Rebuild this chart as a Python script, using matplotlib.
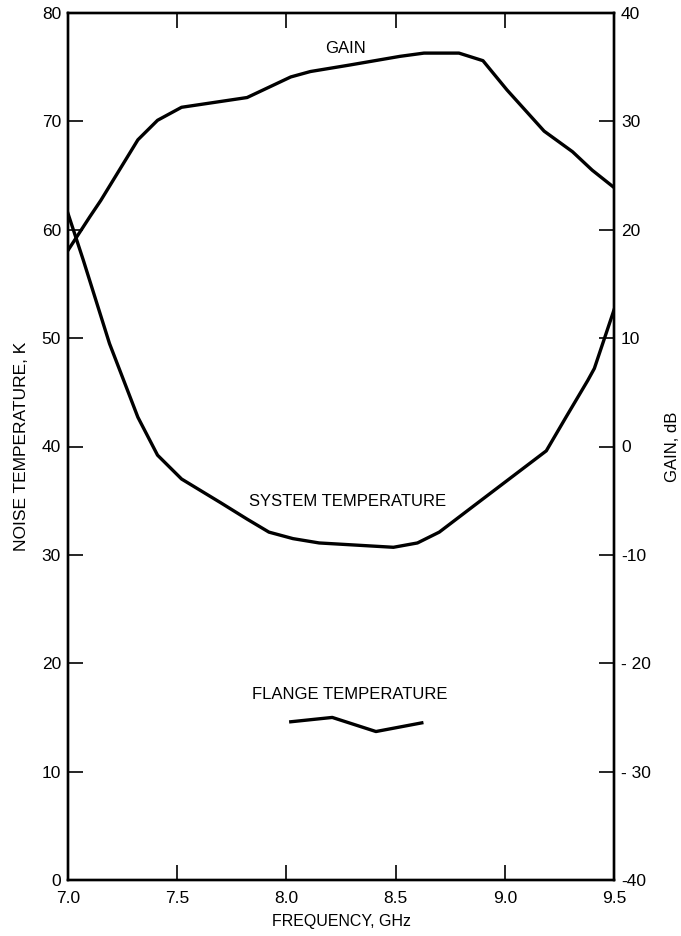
import matplotlib
matplotlib.use("Agg")
import matplotlib.pyplot as plt

plt.rcParams['font.family'] = ['Liberation Sans', 'DejaVu Sans']

# Gain curve (right axis, dB)
gain_freq = [7.00, 7.10, 7.15, 7.32, 7.41, 7.52, 7.82, 8.02, 8.11, 8.29, 8.52,
             8.63, 8.72, 8.79, 8.90, 9.01, 9.18, 9.31, 9.40, 9.50]
gain_db = [18.1, 21.2, 22.7, 28.3, 30.1, 31.3, 32.2, 34.1, 34.6, 35.2, 36.0,
           36.3, 36.3, 36.3, 35.6, 32.9, 29.1, 27.2, 25.5, 23.9]

# System temperature (left axis, K)
sys_freq = [7.00, 7.07, 7.19, 7.32, 7.41, 7.52, 7.70, 7.82, 7.92, 8.03, 8.15,
            8.49, 8.60, 8.70, 8.85, 9.02, 9.19, 9.28, 9.38, 9.41, 9.50]
sys_temp = [61.5, 57.2, 49.5, 42.7, 39.2, 37.0, 34.8, 33.3, 32.1, 31.5, 31.1,
            30.7, 31.1, 32.1, 34.4, 37.0, 39.6, 42.7, 46.1, 47.2, 52.6]

# Flange temperature (left axis, K)
flange_freq = [8.02, 8.21, 8.41, 8.62]
flange_temp = [14.6, 15.0, 13.7, 14.5]

x_ticks = [7.0, 7.5, 8.0, 8.5, 9.0, 9.5]
x_labels = ["7.0", "7.5", "8.0", "8.5", "9.0", "9.5"]
left_ticks = [0, 10, 20, 30, 40, 50, 60, 70, 80]
right_ticks = [-40, -30, -20, -10, 0, 10, 20, 30, 40]
right_labels = ["-40", "- 30", "- 20", "-10", "0", "10", "20", "30", "40"]

fig = plt.figure(figsize=(6.81, 9.36), dpi=100)
ax = fig.add_axes([68/681, 56/936, 546/681, 867/936])
ax2 = ax.twinx()

lw = 2.4
ax.plot(sys_freq, sys_temp, color='black', lw=lw, solid_joinstyle='round')
ax.plot(flange_freq, flange_temp, color='black', lw=lw, solid_joinstyle='round')
ax2.plot(gain_freq, gain_db, color='black', lw=lw, solid_joinstyle='round')

ax.set_xlim(7.0, 9.5)
ax.set_ylim(0, 80)
ax2.set_ylim(-40, 40)

ax.set_xticks(x_ticks)
ax.set_xticklabels(x_labels)
ax.set_yticks(left_ticks)
ax2.set_yticks(right_ticks)
ax2.set_yticklabels(right_labels)

for a in (ax, ax2):
    for s in a.spines.values():
        s.set_linewidth(1.7)
        s.set_color('black')

ax.tick_params(axis='x', direction='in', length=11, width=1.2, labelsize=12.5,
               pad=8, top=True, bottom=True)
ax.tick_params(axis='y', direction='in', length=11, width=1.2, labelsize=12.5,
               pad=5, left=True, right=False)
ax2.tick_params(axis='y', direction='in', length=11, width=1.2, labelsize=12.5,
                pad=5)

ax.set_xlabel("FREQUENCY, GHz", fontsize=11.5, labelpad=6)
ax.set_ylabel("NOISE TEMPERATURE, K", fontsize=12.5, labelpad=9)
ax2.set_ylabel("GAIN, dB", fontsize=12, labelpad=10)

ax.text(8.27, 76.7, "GAIN", fontsize=12, ha='center', va='center')
ax.text(8.28, 34.9, "SYSTEM TEMPERATURE", fontsize=12, ha='center', va='center')
ax.text(8.29, 17.1, "FLANGE TEMPERATURE", fontsize=12, ha='center', va='center')

fig.savefig("out.png", dpi=100)
